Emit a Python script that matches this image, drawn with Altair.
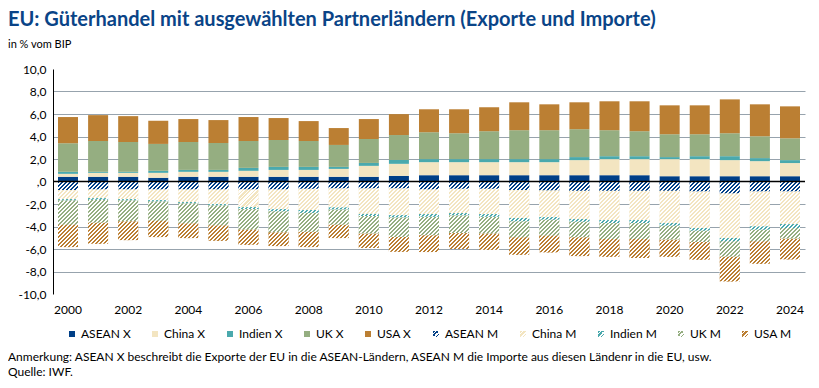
import altair as alt
import pandas as pd

years = list(range(2000, 2025))

# Exports (positive, % of GDP)
asean_x = [0.42,0.42,0.42,0.33,0.42,0.42,0.42,0.42,0.42,0.42,0.42,0.50,0.56,0.56,0.56,0.56,0.56,0.56,0.56,0.56,0.47,0.47,0.47,0.47,0.47]
china_x = [0.26,0.35,0.35,0.44,0.44,0.44,0.53,0.61,0.61,0.70,0.97,1.07,1.16,1.16,1.16,1.16,1.16,1.34,1.43,1.43,1.52,1.52,1.43,1.34,1.17]
indien_x = [0.18,0.09,0.09,0.18,0.17,0.17,0.26,0.27,0.27,0.18,0.26,0.35,0.27,0.27,0.27,0.27,0.27,0.27,0.26,0.26,0.18,0.26,0.35,0.27,0.26]
uk_x = [2.54,2.74,2.65,2.39,2.48,2.39,2.39,2.39,2.30,1.95,2.13,2.21,2.39,2.30,2.48,2.57,2.57,2.48,2.31,2.22,2.03,1.95,2.04,1.94,1.94]
usa_x = [2.33,2.30,2.30,2.06,2.04,2.04,2.13,1.95,1.77,1.50,1.77,1.86,2.04,2.13,2.13,2.48,2.30,2.39,2.57,2.66,2.57,2.57,3.01,2.84,2.84]

# Imports (negative, % of GDP)
asean_m = [-0.77,-0.71,-0.71,-0.71,-0.71,-0.71,-0.71,-0.71,-0.65,-0.62,-0.62,-0.62,-0.71,-0.65,-0.65,-0.77,-0.80,-0.83,-0.83,-0.83,-0.83,-0.89,-1.07,-0.89,-0.89]
china_m = [-0.80,-0.77,-0.86,-0.95,-1.12,-1.30,-1.57,-1.75,-1.89,-1.69,-2.26,-2.38,-2.19,-2.16,-2.25,-2.48,-2.37,-2.51,-2.60,-2.60,-2.87,-3.25,-3.96,-3.10,-2.90]
indien_m = [-0.12,-0.15,-0.12,-0.12,-0.12,-0.12,-0.18,-0.20,-0.25,-0.19,-0.19,-0.20,-0.24,-0.21,-0.24,-0.30,-0.23,-0.24,-0.27,-0.27,-0.23,-0.24,-0.30,-0.30,-0.35]
uk_m = [-2.16,-2.04,-1.86,-1.71,-1.78,-1.78,-1.83,-1.87,-1.69,-1.35,-1.57,-1.73,-1.65,-1.57,-1.50,-1.42,-1.42,-1.39,-1.42,-1.42,-1.25,-1.00,-1.36,-1.04,-0.95]
usa_m = [-1.98,-1.86,-1.66,-1.45,-1.30,-1.36,-1.33,-1.21,-1.35,-1.18,-1.27,-1.32,-1.48,-1.41,-1.43,-1.54,-1.48,-1.66,-1.57,-1.68,-1.51,-1.57,-2.19,-1.98,-1.83]

series_names = ["ASEAN X", "China X", "Indien X", "UK X", "USA X",
                "ASEAN M", "China M", "Indien M", "UK M", "USA M"]
series_values = [asean_x, china_x, indien_x, uk_x, usa_x,
                 asean_m, china_m, indien_m, uk_m, usa_m]
base_colors = ["#003f87", "#f3e5c1", "#4aa9ad", "#95ae81", "#bb7f33"]

y_ticks = [-10, -8, -6, -4, -2, 0, 2, 4, 6, 8, 10]
x_ticks = list(range(2000, 2025, 2))

title_text = "EU: Güterhandel mit ausgewählten Partnerländern (Exporte und Importe)"
subtitle_text = "in % vom BIP"
note_text = "Anmerkung: ASEAN X beschreibt die Exporte der EU in die ASEAN-Ländern, ASEAN M die Importe aus diesen Ländenr in die EU, usw."
source_text = "Quelle: IWF."

rows = []
for idx, (name, vals) in enumerate(zip(series_names, series_values)):
    for y, v in zip(years, vals):
        rows.append({"year": y, "series": name, "idx": idx, "value": v})
df = pd.DataFrame(rows)

FONT = "Lato"
W_PLOT, H_PLOT = 752, 225


def stops_list(color, k):
    parts = []
    for i in range(k):
        a, b, c = i / k, (i + 0.5) / k, (i + 1) / k
        parts += [f"{{offset:{a:.4f},color:'{color}'}}",
                  f"{{offset:{b:.4f},color:'{color}'}}",
                  f"{{offset:{b:.4f},color:'#ffffff'}}",
                  f"{{offset:{c:.4f},color:'#ffffff'}}"]
    return ",".join(parts)


def legend_hatch(color):
    return alt.ExprRef(f"{{gradient:'linear',x1:0,y1:0,x2:1,y2:1,stops:[{stops_list(color, 3)}]}}")


def bar_hatch(color, k=24, p=4):
    w = "bandwidth('x')"
    h = "max(1,abs(scale('y',datum.v1)-scale('y',datum.v0)))"
    d = f"({w}*{w}+{h}*{h})"
    return alt.ExprRef(
        f"{{gradient:'linear',x1:0,y1:0,x2:{k*p}*{w}/{d},y2:{k*p}*{h}/{d},stops:[{stops_list(color, k)}]}}"
    )


color_range = base_colors + [legend_hatch(c) for c in base_colors]

y_label = "datum.value == 0 ? ',0' : (datum.value < 0 ? '-' : '') + replace(format(abs(datum.value), '.1f'), '.', ',')"

base = alt.Chart(df).transform_stack(
    stack="value", groupby=["year"], as_=["v0", "v1"],
    sort=[alt.SortField("idx", order="ascending")], offset="zero"
).encode(
    x=alt.X("year:O", title=None,
            scale=alt.Scale(paddingInner=0.335, paddingOuter=0.167),
            axis=alt.Axis(values=x_ticks, labelAngle=0, domain=False, tickCount=30,
                          ticks=False, labelPadding=10, labelFont=FONT, labelFontSize=12,
                          labelColor="#000000", grid=False, labelOverlap=False)),
    y=alt.Y("v0:Q", title=None,
            scale=alt.Scale(domain=[-10, 10], nice=False, zero=False),
            axis=alt.Axis(values=y_ticks, tickCount=len(y_ticks), labelExpr=y_label, ticks=False,
                          labelOverlap=False,
                          labelPadding=7, labelFont=FONT, labelFontSize=12, labelColor="#000000",
                          domainColor="#000000", domainWidth=1, grid=True,
                          gridColor="#97a3ad", gridWidth=1,
                          gridOpacity={"condition": {"test": "abs(datum.value) >= 10 || datum.value == 0", "value": 0}, "value": 1})),
    y2="v1:Q",
)

bars = base.mark_bar().encode(
    color=alt.Color("series:N",
                    scale=alt.Scale(domain=series_names, range=color_range),
                    legend=alt.Legend(title=None, orient="none", legendX=13, legendY=259,
                                      direction="horizontal", columns=10, columnPadding=18,
                                      symbolType="square", symbolSize=36, symbolStrokeWidth=0,
                                      labelOffset=3, labelFont=FONT, labelFontSize=12,
                                      labelColor="#000000", padding=0))
)

hatch_layers = [
    base.transform_filter(alt.datum.series == name).mark_bar(fill=bar_hatch(col))
    for name, col in zip(series_names[5:], base_colors)
]

zero_rule = alt.Chart(pd.DataFrame({"z": [0]})).mark_rule(color="#000000", strokeWidth=1.5).encode(
    y=alt.Y("z:Q")
)


def text_layer(txt, x, y, size, bold=False, color="#000000"):
    return alt.Chart(pd.DataFrame({"t": [txt]})).mark_text(
        align="left", baseline="alphabetic", font=FONT, fontSize=size,
        fontWeight="bold" if bold else "normal", color=color
    ).encode(x=alt.value(x), y=alt.value(y), text="t:N")


texts = [
    text_layer(title_text, -45, -43, 20, bold=True, color="#0a4487"),
    text_layer(subtitle_text, -45, -21, 11),
    text_layer(note_text, -45, 292, 12),
    text_layer(source_text, -45, 307, 12),
]

chart = alt.layer(bars, *hatch_layers, zero_rule, *texts).properties(
    width=W_PLOT, height=H_PLOT,
    autosize=alt.AutoSizeParams(type="none"),
    padding={"left": 45, "top": 61, "right": 4, "bottom": 84},
    background="#ffffff",
).configure_view(stroke=None)

chart.save("out.html", embed_options={"renderer": "svg", "actions": False})
